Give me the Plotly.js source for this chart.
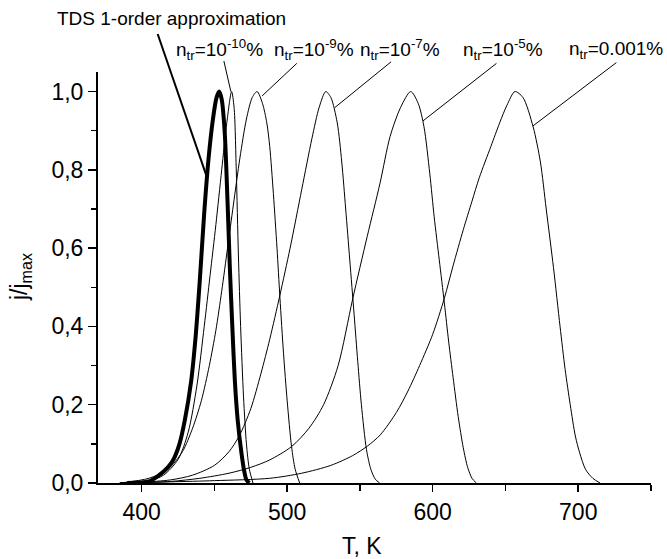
<!DOCTYPE html>
<html>
<head>
<meta charset="utf-8">
<script src="https://cdn.plot.ly/plotly-3.0.1.min.js"></script>
<style>html,body{margin:0;padding:0;background:#fff;}#chart{width:667px;height:559px;}</style>
</head>
<body>
<div id="chart"></div>
<script>
// TDS 1-order approximation (thick)
const tdsT = [390, 405, 412, 418, 421.7, 426, 429.7, 434, 437, 440, 443, 446, 449, 451.5, 453.3, 455, 457, 459, 460.6, 462.3, 464, 466, 468.6, 470.5, 472, 474];
const tdsJ = [0, 0.004, 0.02, 0.04, 0.059, 0.1, 0.161, 0.26, 0.37, 0.52, 0.69, 0.83, 0.93, 0.985, 1.0, 0.98, 0.9, 0.72, 0.55, 0.4, 0.264, 0.16, 0.076, 0.03, 0.008, 0];

// n_tr = 1e-10 %
const n10T = [390, 405, 415, 425, 432, 438, 443, 447, 451, 455, 458.5, 461.8, 463.5, 465, 466.5, 468, 470, 472, 474, 476.5];
const n10J = [0, 0.005, 0.02, 0.06, 0.13, 0.25, 0.4, 0.53, 0.66, 0.8, 0.92, 1.0, 0.96, 0.8, 0.58, 0.4, 0.22, 0.1, 0.035, 0];

// n_tr = 1e-9 %
const n9T = [385, 405, 418, 428, 435, 441, 446.5, 451, 455, 459, 463, 467.5, 472, 476, 479.3, 483, 486, 488, 490.5, 493, 495, 497.5, 500, 503, 505.5, 508.6];
const n9J = [0, 0.012, 0.035, 0.08, 0.14, 0.21, 0.3, 0.39, 0.49, 0.6, 0.71, 0.83, 0.93, 0.985, 1.0, 0.97, 0.92, 0.86, 0.74, 0.6, 0.474, 0.33, 0.21, 0.093, 0.035, 0];

// n_tr = 1e-7 %
const n7T = [385, 400, 420, 435, 450, 460, 467, 475, 482, 488, 495, 502, 510, 517, 522, 526.5, 530, 534.4, 537.5, 540.2, 543, 546, 548.5, 551, 554.5, 557.5, 560.5, 563.5];
const n7J = [0, 0.002, 0.008, 0.02, 0.045, 0.08, 0.12, 0.19, 0.28, 0.367, 0.48, 0.6, 0.75, 0.88, 0.96, 1.0, 0.985, 0.92, 0.82, 0.7, 0.57, 0.43, 0.31, 0.2, 0.085, 0.035, 0.01, 0];

// n_tr = 1e-5 %
const n5T = [385, 400, 420, 440, 460, 475, 488, 503, 515, 525, 535, 545, 555, 563.8, 570.7, 578, 584.9, 590, 594, 598, 601, 604.5, 608, 611, 614, 617.5, 621, 624, 627, 630];
const n5J = [0, 0.001, 0.004, 0.012, 0.025, 0.04, 0.059, 0.093, 0.14, 0.2, 0.3, 0.47, 0.63, 0.766, 0.885, 0.96, 1.0, 0.97, 0.91, 0.79, 0.68, 0.57, 0.46, 0.36, 0.27, 0.17, 0.09, 0.04, 0.012, 0];

// n_tr = 0.001 %
const n3T = [385, 420, 450, 488, 510, 530, 545, 555, 564, 575, 583, 591, 600, 608, 614, 621, 627, 632, 640, 646, 651, 656.5, 662, 669, 674, 678, 683, 687.5, 691, 694.5, 698, 701, 705, 710, 715];
const n3J = [0, 0.003, 0.006, 0.012, 0.025, 0.045, 0.07, 0.094, 0.123, 0.18, 0.235, 0.3, 0.38, 0.472, 0.555, 0.647, 0.72, 0.78, 0.86, 0.92, 0.965, 1.0, 0.985, 0.91, 0.82, 0.7, 0.55, 0.4, 0.29, 0.2, 0.12, 0.077, 0.035, 0.012, 0];

const xTitle = 'T, K';
const yTitle = 'j/j<sub>max</sub>';
const labelTexts = ['n<sub>tr</sub>=10<sup>-10</sup>%', 'n<sub>tr</sub>=10<sup>-9</sup>%', 'n<sub>tr</sub>=10<sup>-7</sup>%', 'n<sub>tr</sub>=10<sup>-5</sup>%', 'n<sub>tr</sub>=0.001%'];
const labelX = [453.7, 518.3, 577.3, 648, 726.2];
// leader lines: tail (label side) and head (on curve), in data units
const leadTailX = [456.5, 506.6, 571.4, 643.8, 726.2];
const leadTailY = [1.078, 1.072, 1.076, 1.072, 1.074];
const leadHeadX = [461.3, 482.8, 532.7, 593.3, 668.8];
const leadHeadY = [1.0, 0.989, 0.959, 0.925, 0.912];
const tdsLabel = 'TDS 1-order approximation';
const tdsLabelX = 420.8;
const tdsLeadTail = [411.0, 1.147];
const tdsLeadHead = [444.6, 0.784];

const xRange = [370, 750];
const yRange = [0, 1.05];
const fx = v => (v - xRange[0]) / (xRange[1] - xRange[0]);
const fy = v => (v - yRange[0]) / (yRange[1] - yRange[0]);

const thin = {color: '#000', width: 1, shape: 'spline', smoothing: 0.8};
const traces = [
  {x: n3T, y: n3J, mode: 'lines', line: thin},
  {x: n5T, y: n5J, mode: 'lines', line: thin},
  {x: n7T, y: n7J, mode: 'lines', line: thin},
  {x: n9T, y: n9J, mode: 'lines', line: thin},
  {x: n10T, y: n10J, mode: 'lines', line: thin},
  {x: tdsT, y: tdsJ, mode: 'lines', line: {color: '#000', width: 4, shape: 'spline', smoothing: 0.8}}
];

const fam = 'Liberation Sans, Arial, sans-serif';
const annotations = [];
const shapes = [];
for (let i = 0; i < labelTexts.length; i++) {
  annotations.push({xref: 'x', yref: 'paper', x: labelX[i], y: 1.054, text: labelTexts[i], showarrow: false,
    xanchor: 'center', yanchor: 'middle', font: {family: fam, size: 19, color: '#000'}});
  shapes.push({type: 'line', xref: 'paper', yref: 'paper', x0: fx(leadTailX[i]), y0: fy(leadTailY[i]),
    x1: fx(leadHeadX[i]), y1: fy(leadHeadY[i]), line: {color: '#000', width: 1}});
}
annotations.push({xref: 'x', yref: 'paper', x: tdsLabelX, y: 1.131, text: tdsLabel, showarrow: false,
  xanchor: 'center', yanchor: 'middle', font: {family: fam, size: 19, color: '#000'}});
shapes.push({type: 'line', xref: 'paper', yref: 'paper', x0: fx(tdsLeadTail[0]), y0: fy(tdsLeadTail[1]),
  x1: fx(tdsLeadHead[0]), y1: fy(tdsLeadHead[1]), line: {color: '#000', width: 2}});
annotations.push({xref: 'paper', yref: 'paper', x: 0.477, y: -0.153, text: xTitle, showarrow: false,
  xanchor: 'center', yanchor: 'middle', font: {family: fam, size: 23, color: '#000'}});
annotations.push({xref: 'paper', yref: 'paper', x: -0.14, y: 0.5, text: yTitle, showarrow: false, textangle: -90,
  xanchor: 'center', yanchor: 'middle', font: {family: fam, size: 23, color: '#000'}});

const layout = {
  width: 667, height: 559,
  margin: {l: 98, r: 16, t: 72, b: 76},
  paper_bgcolor: '#fff', plot_bgcolor: '#fff',
  showlegend: false,
  separators: ', ',
  font: {family: fam, color: '#000'},
  xaxis: {
    range: xRange, tickmode: 'linear', tick0: 400, dtick: 100,
    ticks: 'outside', ticklen: 7, tickwidth: 1.5, tickcolor: '#000',
    showline: true, linecolor: '#000', linewidth: 2, showgrid: false, zeroline: false,
    tickfont: {family: fam, size: 23, color: '#000'},
    minor: {dtick: 50, tick0: 400, ticks: 'outside', ticklen: 6, tickwidth: 1.5, tickcolor: '#000', showgrid: false}
  },
  yaxis: {
    range: yRange, tickmode: 'linear', tick0: 0, dtick: 0.2, tickformat: '.1f',
    ticks: 'outside', ticklen: 8, tickwidth: 1.5, tickcolor: '#000',
    showline: true, linecolor: '#000', linewidth: 2, showgrid: false, zeroline: false,
    tickfont: {family: fam, size: 23, color: '#000'},
    minor: {dtick: 0.1, tick0: 0, ticks: 'outside', ticklen: 5, tickwidth: 1.5, tickcolor: '#000', showgrid: false}
  },
  annotations: annotations,
  shapes: shapes
};
Plotly.newPlot('chart', traces, layout, {staticPlot: true, displayModeBar: false});
</script>
</body>
</html>
